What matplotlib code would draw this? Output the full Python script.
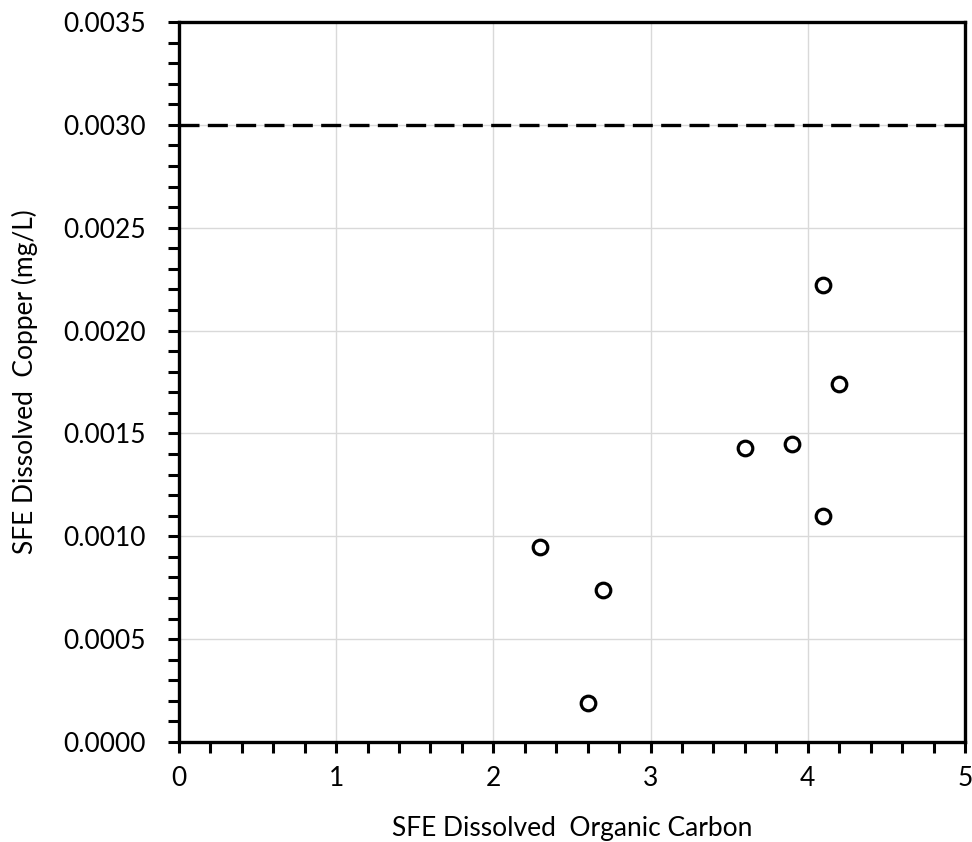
import numpy as np
import matplotlib.pyplot as plt
from matplotlib.ticker import MultipleLocator, FormatStrFormatter

plt.rcParams['font.family'] = ['Lato', 'DejaVu Sans']

# SFE dissolved organic carbon vs dissolved copper
doc = [2.3, 2.7, 2.6, 3.6, 3.9, 4.1, 4.2, 4.1]
copper = [0.00095, 0.00074, 0.00019, 0.00143, 0.00145, 0.00222, 0.00174, 0.00110]
criterion = 0.0030

fig = plt.figure(figsize=(9.72, 8.42), dpi=100)
ax = fig.add_axes([0.184, 0.1188, 0.8088, 0.8551])

ax.grid(True, which='major', color='#d9d9d9', lw=1.0, zorder=0)
ax.axhline(criterion, color='black', lw=2.4, dashes=(6, 2.5), zorder=2)
ax.plot(doc, copper, 'o', ms=10.5, mfc='white', mec='black', mew=2.3, zorder=3)

ax.set_xlim(0, 5)
ax.set_ylim(0, 0.0035)
ax.xaxis.set_major_locator(MultipleLocator(1))
ax.xaxis.set_minor_locator(MultipleLocator(0.2))
ax.yaxis.set_major_locator(MultipleLocator(0.0005))
ax.yaxis.set_minor_locator(MultipleLocator(0.0001))
ax.yaxis.set_major_formatter(FormatStrFormatter('%.4f'))

for s in ax.spines.values():
    s.set_linewidth(2.4)
    s.set_color('black')
ax.tick_params(which='both', direction='out', length=8, width=2.2, color='black')
ax.tick_params(axis='y', which='major', labelsize=19, pad=16)
ax.tick_params(axis='x', which='major', labelsize=19, pad=9)

ax.set_xlabel('SFE Dissolved  Organic Carbon', fontsize=19, labelpad=18)
ax.set_ylabel('SFE Dissolved  Copper (mg/L)', fontsize=19, labelpad=18)

fig.savefig('out.png', dpi=100)
